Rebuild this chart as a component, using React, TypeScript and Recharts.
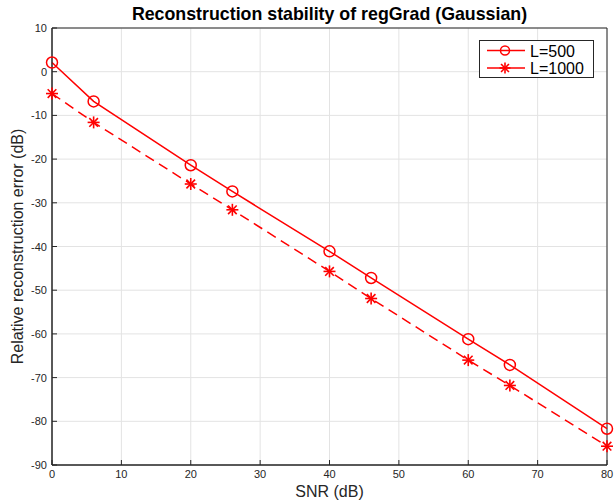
import React from 'react';
import { LineChart, Line, XAxis, YAxis, CartesianGrid, Legend, ReferenceArea, Label } from 'recharts';

// ---------------------------------------------------------------------------
// Reconstruction stability of regGrad (Gaussian)
// ---------------------------------------------------------------------------

const snr = [0, 6, 20, 26, 40, 46, 60, 66, 80];
const errL500 = [2.1, -6.8, -21.4, -27.4, -41.1, -47.2, -61.2, -67.1, -81.7];
const errL1000 = [-5.0, -11.6, -25.7, -31.6, -45.7, -51.9, -66.0, -71.8, -85.7];
const xTicks = [0, 10, 20, 30, 40, 50, 60, 70, 80];
const yTicks = [-90, -80, -70, -60, -50, -40, -30, -20, -10, 0, 10];

const RED = '#ff0000';
const AXIS = '#262626';
const FONT = '"Liberation Sans", Arial, Helvetica, sans-serif';

const data = snr.map((x, i) => ({ snr: x, L500: errL500[i], L1000: errL1000[i] }));

// markers ignore the r that recharts passes in; size is ours
function StarDot({ cx, cy, size = 6 }: { cx?: number; cy?: number; size?: number }) {
  if (cx == null || cy == null) return null;
  const d = size * 0.72;
  return (
    <g stroke={RED} strokeWidth={1.6}>
      <line x1={cx - size} y1={cy} x2={cx + size} y2={cy} />
      <line x1={cx} y1={cy - size} x2={cx} y2={cy + size} />
      <line x1={cx - d} y1={cy - d} x2={cx + d} y2={cy + d} />
      <line x1={cx - d} y1={cy + d} x2={cx + d} y2={cy - d} />
    </g>
  );
}

function CircleDot({ cx, cy, size = 5.5 }: { cx?: number; cy?: number; size?: number }) {
  if (cx == null || cy == null) return null;
  return <circle cx={cx} cy={cy} r={size} fill="none" stroke={RED} strokeWidth={1.5} />;
}

function BottomTick({ x, y, payload }: any) {
  return (
    <g>
      <line x1={x} y1={y} x2={x} y2={y - 5} stroke={AXIS} />
      <text x={x} y={y + 13} textAnchor="middle" fill={AXIS} fontSize={11} fontFamily={FONT}>
        {payload.value}
      </text>
    </g>
  );
}

function LeftTick({ x, y, payload }: any) {
  return (
    <g>
      <line x1={x} y1={y} x2={x + 5} y2={y} stroke={AXIS} />
      <text x={x - 5} y={y + 4} textAnchor="end" fill={AXIS} fontSize={11} fontFamily={FONT}>
        {payload.value}
      </text>
    </g>
  );
}

function TopTick({ x, y }: any) {
  return <line x1={x} y1={y} x2={x} y2={y + 5} stroke={AXIS} />;
}

function RightTick({ x, y }: any) {
  return <line x1={x} y1={y} x2={x - 5} y2={y} stroke={AXIS} />;
}

function LegendBox() {
  const rows = [
    { name: 'L=500', Dot: CircleDot, size: 4.5 },
    { name: 'L=1000', Dot: StarDot, size: 5.5 },
  ];
  return (
    <div
      style={{
        position: 'absolute',
        left: 479,
        top: 40,
        width: 115,
        height: 38,
        border: `1px solid ${AXIS}`,
        background: '#fff',
        boxSizing: 'border-box',
      }}
    >
      <svg width={115} height={38} style={{ position: 'absolute', left: -1, top: -1 }}>
        {rows.map((row, i) => {
          const cy = 10.5 + i * 17.5;
          return (
            <g key={row.name}>
              <line x1={8} y1={cy} x2={46} y2={cy} stroke={RED} strokeWidth={1.5} />
              <row.Dot cx={26} cy={cy} size={row.size} />
              <text x={51} y={cy + 6} fontSize={16} fontFamily={FONT} fill="#000">
                {row.name}
              </text>
            </g>
          );
        })}
      </svg>
    </div>
  );
}

export default function App() {
  return (
    <div style={{ position: 'absolute', left: 0, top: 0, width: 614, height: 501, background: '#fff' }}>
      <div
        style={{
          position: 'absolute',
          left: 52,
          width: 555,
          top: 4,
          textAlign: 'center',
          fontFamily: FONT,
          fontWeight: 'bold',
          fontSize: 17.8,
          color: '#000',
        }}
      >
        Reconstruction stability of regGrad (Gaussian)
      </div>
      <LineChart width={614} height={501} data={data} margin={{ top: 28, right: 7, bottom: 0, left: 0 }}>
        <CartesianGrid stroke="#e3e3e3" strokeWidth={1} />
        <XAxis
          dataKey="snr"
          type="number"
          domain={[0, 80]}
          ticks={xTicks}
          interval={0}
          height={36}
          tickSize={0}
          tickMargin={0}
          axisLine={{ stroke: AXIS }}
          tick={<BottomTick />}
        >
          <Label value="SNR (dB)" position="insideBottom" offset={4} fill={AXIS} fontSize={16} fontFamily={FONT} />
        </XAxis>
        <XAxis
          xAxisId="top"
          orientation="top"
          dataKey="snr"
          type="number"
          domain={[0, 80]}
          ticks={xTicks}
          interval={0}
          height={0}
          tickSize={0}
          tickMargin={0}
          axisLine={{ stroke: AXIS }}
          tick={<TopTick />}
        />
        <YAxis
          type="number"
          domain={[-90, 10]}
          ticks={yTicks}
          interval={0}
          width={52}
          tickSize={0}
          tickMargin={0}
          axisLine={{ stroke: AXIS }}
          tick={<LeftTick />}
        >
          <Label
            value="Relative reconstruction error (dB)"
            angle={-90}
            position="insideLeft"
            offset={17}
            style={{ textAnchor: 'middle' }}
            fill={AXIS}
            fontSize={16}
            fontFamily={FONT}
          />
        </YAxis>
        <YAxis
          yAxisId="right"
          orientation="right"
          type="number"
          domain={[-90, 10]}
          ticks={yTicks}
          interval={0}
          width={0}
          tickSize={0}
          tickMargin={0}
          axisLine={{ stroke: AXIS }}
          tick={<RightTick />}
        />
        <ReferenceArea x1={0} x2={80} y1={-90} y2={10} fill="none" stroke={AXIS} strokeWidth={1} ifOverflow="visible" />
        <Line
          type="linear"
          dataKey="L500"
          name="L=500"
          stroke={RED}
          strokeWidth={1.5}
          dot={<CircleDot />}
          activeDot={false}
          isAnimationActive={false}
        />
        <Line
          type="linear"
          dataKey="L1000"
          name="L=1000"
          stroke={RED}
          strokeWidth={1.5}
          strokeDasharray="10 6"
          dot={<StarDot />}
          activeDot={false}
          isAnimationActive={false}
        />
        <Legend content={() => null} />
      </LineChart>
      <LegendBox />
    </div>
  );
}
